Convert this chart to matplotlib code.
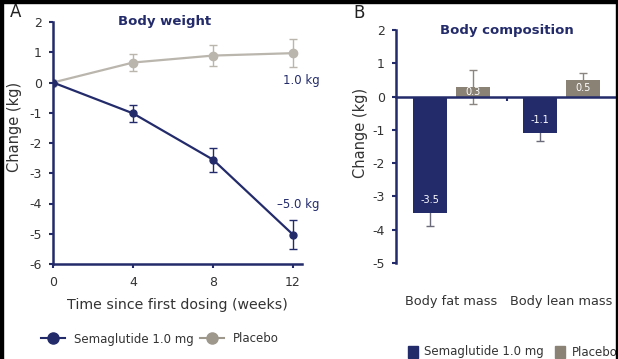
import numpy as np
import matplotlib.pyplot as plt
from matplotlib.patches import Rectangle
from matplotlib.lines import Line2D
from matplotlib.transforms import blended_transform_factory

navy = '#232b6b'
grey_line = '#bab5ad'
grey_bar = '#8b8276'
txt = '#333333'

# panel A data
weeks = [0, 4, 8, 12]
sema = [0, -1.02, -2.55, -5.03]
sema_err = [0, 0.27, 0.40, 0.48]
plac = [0, 0.66, 0.89, 0.97]
plac_err = [0, 0.29, 0.35, 0.47]

# panel B data
comp = ['Body fat mass', 'Body lean mass']
sema_comp = [-3.5, -1.1]
sema_comp_err = [0.4, 0.22]
plac_comp = [0.3, 0.5]
plac_comp_err = [0.51, 0.22]
sema_lbl = ['-3.5', '-1.1']
plac_lbl = ['0.3', '0.5']

plt.rcParams['font.family'] = 'DejaVu Sans'
plt.rcParams['axes.unicode_minus'] = False
fig = plt.figure(figsize=(6.18, 3.59), dpi=100)
W, H = 618, 359

def px(x0, y0, x1, y1):
    return [x0 / W, 1 - y1 / H, (x1 - x0) / W, (y1 - y0) / H]

def style(a):
    for s in ['top', 'right']:
        a.spines[s].set_visible(False)
    for s in ['left', 'bottom']:
        a.spines[s].set_color(navy)
        a.spines[s].set_linewidth(1.8)
    a.tick_params(colors=navy, labelcolor=txt, labelsize=9, width=1.5, length=3)
    a.tick_params(axis='y', pad=5)

# ---- A ----
ax = fig.add_axes(px(53, 22, 302, 264))
ax.errorbar(weeks, plac, yerr=plac_err, color=grey_line, marker='o', ms=6,
            lw=1.6, capsize=3, elinewidth=1, ecolor=grey_line, zorder=2)
ax.errorbar(weeks, sema, yerr=sema_err, color=navy, marker='o', ms=5,
            lw=1.6, capsize=3, elinewidth=1, ecolor=navy, zorder=3)
ax.set_xlim(0, 12.45)
ax.set_ylim(-6, 2)
ax.set_xticks(weeks)
ax.set_yticks(range(-6, 3))
style(ax)
ax.tick_params(axis='x', pad=6)
ax.set_ylabel('Change (kg)', fontsize=10.5, color=txt)
ax.yaxis.set_label_coords(-0.125, 0.566)
ax.set_xlabel('Time since first dosing (weeks)', fontsize=10.2, color=txt, labelpad=6)
ax.text(5.6, 2.0, 'Body weight', ha='center', va='center',
        fontsize=9.5, fontweight='bold', color=navy)
ax.text(12.4, 0.05, '1.0 kg', ha='center', va='center', fontsize=8.5, color=navy)
ax.text(12.25, -4.03, '\u20135.0 kg', ha='center', va='center', fontsize=8.5, color=navy)

h1 = Line2D([], [], color=navy, marker='o', ms=8, lw=1.5)
h2 = Line2D([], [], color='#9d978c', marker='o', ms=8, lw=1.5)
fig.legend([h1, h2], ['Semaglutide 1.0 mg', 'Placebo'], loc='center',
           bbox_to_anchor=(160 / W, 1 - 339 / H), ncol=2, frameon=False,
           fontsize=8.5, handlelength=2.0, columnspacing=0.5, handletextpad=0.8,
           labelcolor=txt)

# ---- B ----
bx = fig.add_axes(px(396, 30, 396 + 110 * 2.01, 263))
x = np.arange(len(comp))
off, bw = 0.195, 0.31
bx.errorbar(x - off, sema_comp, yerr=sema_comp_err, fmt='none', ecolor='#6a6a7a',
            elinewidth=1, capsize=3, zorder=1)
bx.errorbar(x + off, plac_comp, yerr=plac_comp_err, fmt='none', ecolor='#8a8580',
            elinewidth=1, capsize=3, zorder=1)
bx.bar(x - off, sema_comp, bw, color=navy, zorder=2)
bx.bar(x + off, plac_comp, bw, color=grey_bar, zorder=2)
for i in range(len(comp)):
    bx.text(x[i] - off, sema_comp[i] + 0.39, sema_lbl[i], ha='center', va='center',
            fontsize=7, color='white', zorder=4)
    bx.text(x[i] + off, plac_comp[i] / 2, plac_lbl[i], ha='center', va='center',
            fontsize=7, color='white', zorder=4)
bx.set_xlim(-0.505, 1.505)
bx.set_ylim(-5, 2)
bx.set_yticks(range(-5, 3))
bx.set_xticks([0.5])
bx.set_xticklabels([])
bx.spines['bottom'].set_position(('data', 0))
style(bx)
bx.set_ylabel('Change (kg)', fontsize=10.5, color=txt)
bx.yaxis.set_label_coords(-0.127, 0.558)
bx.text(0.5, 1.98, 'Body composition', ha='center', va='center',
        fontsize=9.5, fontweight='bold', color=navy)
tr = blended_transform_factory(bx.transData, fig.transFigure)
for i, c in enumerate(comp):
    bx.text(x[i], 1 - 302 / H, c, transform=tr, ha='center', va='center',
            fontsize=9.3, color=txt)

# legend B
fig.patches.append(Rectangle((408 / W, 1 - 358 / H), 10 / W, 12 / H, color=navy,
                             transform=fig.transFigure))
fig.text(424 / W, 1 - 352 / H, 'Semaglutide 1.0 mg', fontsize=8.5, color=txt, va='center')
fig.patches.append(Rectangle((555 / W, 1 - 358 / H), 10 / W, 12 / H, color=grey_bar,
                             transform=fig.transFigure))
fig.text(572 / W, 1 - 352 / H, 'Placebo', fontsize=8.5, color=txt, va='center')

fig.text(10 / W, 1 - 12 / H, 'A', fontsize=12, color='#222222', va='center')
fig.text(353 / W, 1 - 13 / H, 'B', fontsize=12, color='#222222', va='center')

# black frame edges (left, top, right)
for r in [(0, 0, 3, H), (0, H - 3, W, 3), (W - 2, 0, 2, H)]:
    fig.patches.append(Rectangle((r[0] / W, r[1] / H), r[2] / W, r[3] / H,
                                 color='black', transform=fig.transFigure, zorder=10))

fig.savefig('out.png', dpi=100)
